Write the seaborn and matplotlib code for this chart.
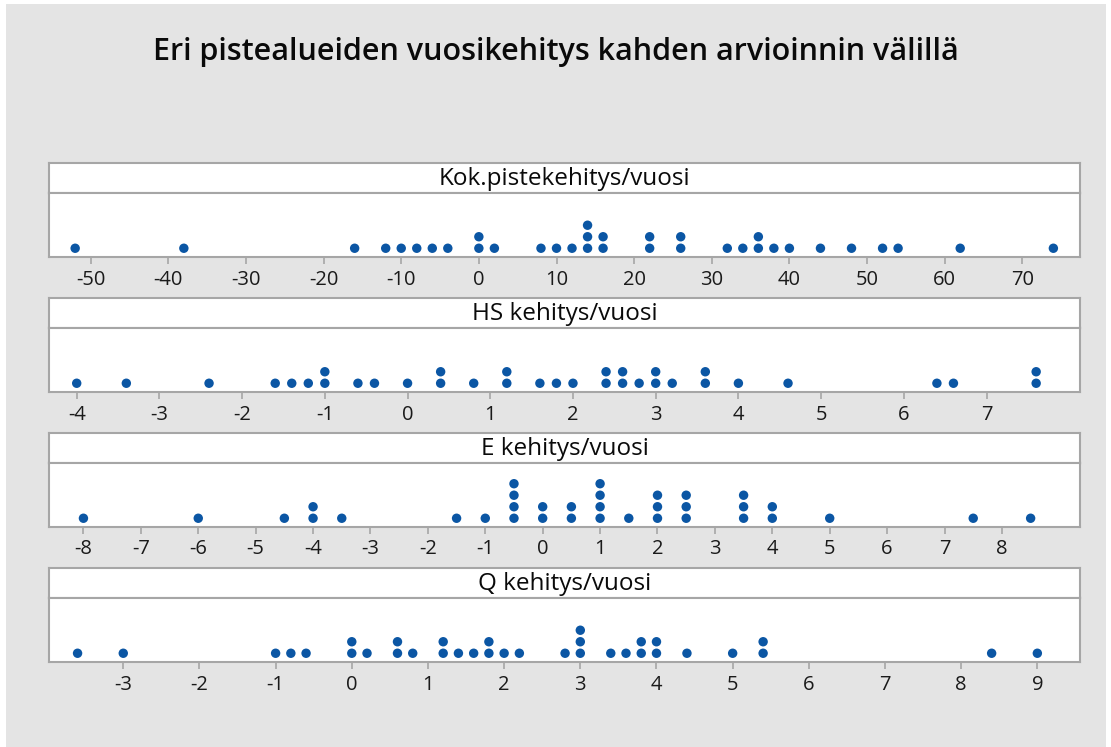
import numpy as np
import pandas as pd
import matplotlib
matplotlib.use("Agg")
import matplotlib.pyplot as plt
import seaborn as sns
from matplotlib.patches import Rectangle

# ---------------- data ----------------
title = "Eri pistealueiden vuosikehitys kahden arvioinnin välillä"
panel_titles = ["Kok.pistekehitys/vuosi", "HS kehitys/vuosi",
                "E kehitys/vuosi", "Q kehitys/vuosi"]

kok = [-52, -38, -16, -12, -10, -8, -6, -4, 0, 0, 2, 8, 10, 12,
       14, 14, 14, 16, 16, 22, 22, 26, 26, 32, 34, 36, 36, 38, 40,
       44, 48, 52, 54, 62, 74]
hs = [-4, -3.4, -2.4, -1.6, -1.4, -1.2, -1, -1, -0.6, -0.4, 0, 0.4, 0.4,
      0.8, 1.2, 1.2, 1.6, 1.8, 2.0, 2.4, 2.4, 2.6, 2.6, 2.8, 3, 3, 3.2,
      3.6, 3.6, 4, 4.6, 6.4, 6.6, 7.6, 7.6]
e = [-8, -6, -4.5, -4, -4, -3.5, -1.5, -1, -0.5, -0.5, -0.5, -0.5, 0, 0,
     0.5, 0.5, 1, 1, 1, 1, 1.5, 2, 2, 2, 2.5, 2.5, 2.5, 3.5, 3.5, 3.5,
     4, 4, 5, 7.5, 8.5]
q = [-3.6, -3, -1, -0.8, -0.6, 0, 0, 0.2, 0.6, 0.6, 0.8, 1.2, 1.2, 1.4,
     1.6, 1.8, 1.8, 2.0, 2.2, 2.8, 3, 3, 3, 3.4, 3.6, 3.8, 3.8, 4, 4,
     4.4, 5, 5.4, 5.4, 8.4, 9]

ticks_kok = list(range(-50, 71, 10))
ticks_hs = list(range(-4, 8))
ticks_e = list(range(-8, 9))
ticks_q = list(range(-3, 10))

series = [kok, hs, e, q]
tick_sets = [ticks_kok, ticks_hs, ticks_e, ticks_q]
xlims = [(-55.37, 77.43), (-4.335, 8.13), (-8.6, 9.36), (-3.975, 9.56)]

# ---------------- style ----------------
sns.set_theme(style="white")
plt.rcParams["font.family"] = ["Open Sans", "DejaVu Sans"]

W, H = 1111, 747
fig = plt.figure(figsize=(W / 100, H / 100), dpi=100, facecolor="white")

bg = Rectangle((6 / W, 0 / H), (1106 - 6) / W, (743) / H,
               transform=fig.transFigure, facecolor="#e4e4e4",
               edgecolor="none", zorder=-10)
fig.patches.append(bg)

fig.text(0.5, 1 - 52 / H, title, ha="center", va="center",
         fontsize=22, color="#0a0a0a", fontweight="semibold")

dot_color = "#0b56a4"
edge_col = "#a6a6a6"
left_px, right_px = 49, 1080

for i, (vals, ticks, xl, ptitle) in enumerate(zip(series, tick_sets, xlims, panel_titles)):
    top = 163 + 135 * i
    mid = top + 30
    bot = mid + 64
    # header strip
    hax = fig.add_axes([left_px / W, 1 - mid / H, (right_px - left_px) / W, 30 / H])
    hax.set_facecolor("white")
    hax.set_xticks([]); hax.set_yticks([])
    for sp in hax.spines.values():
        sp.set_color(edge_col); sp.set_linewidth(1.5)
    hax.text(0.5, 0.47, ptitle, ha="center", va="center",
             transform=hax.transAxes, fontsize=17.5, color="#0a0a0a")

    # dot plot area
    ax = fig.add_axes([left_px / W, 1 - bot / H, (right_px - left_px) / W, 64 / H])
    df = pd.DataFrame({"x": vals})
    df["level"] = df.groupby("x").cumcount()
    sns.scatterplot(data=df, x="x", y="level", ax=ax, color=dot_color,
                    marker="o", s=46, edgecolor="none", legend=False)
    ax.set_xlim(*xl)
    ax.set_ylim(-0.76, 4.8)
    ax.set_facecolor("white")
    ax.set_yticks([])
    ax.set_xticks(ticks)
    ax.set_xticklabels([str(t) for t in ticks])
    ax.set_xlabel(""); ax.set_ylabel("")
    for sp in ax.spines.values():
        sp.set_color(edge_col); sp.set_linewidth(1.5)
    ax.tick_params(axis="x", direction="out", length=5, width=1.2,
                   color=edge_col, labelsize=14.5, labelcolor="#1a1a1a", pad=4,
                   bottom=True)

fig.savefig("out.png", dpi=100, facecolor=fig.get_facecolor())
